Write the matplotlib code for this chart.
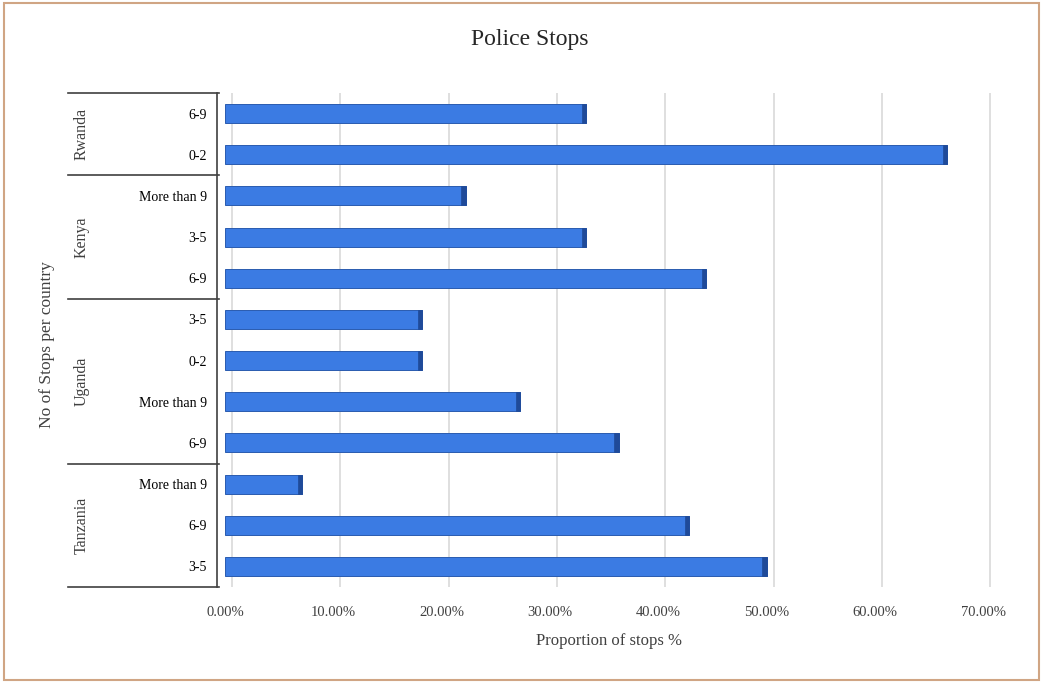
import matplotlib
matplotlib.use("Agg")
import matplotlib.pyplot as plt
from matplotlib.patches import Rectangle
from matplotlib.transforms import blended_transform_factory, ScaledTranslation
import numpy as np

plt.rcParams['font.family'] = ['Liberation Serif', 'DejaVu Serif']

# Data (bottom to top)
countries = ["Tanzania", "Uganda", "Kenya", "Rwanda"]
groups = [
    ["3-5", "6-9", "More than 9"],
    ["6-9", "More than 9", "0-2", "3-5"],
    ["6-9", "3-5", "More than 9"],
    ["0-2", "6-9"],
]
values = [
    [0.50, 0.4286, 0.0714],
    [0.3636, 0.2727, 0.1818, 0.1818],
    [0.4444, 0.3333, 0.2222],
    [0.6667, 0.3333],
]
xticks = [0.0, 0.1, 0.2, 0.3, 0.4, 0.5, 0.6, 0.7]

labels = [l for g in groups for l in g]
vals = [v for g in values for v in g]
ypos = np.arange(len(labels))

W, H = 1043, 683
fig = plt.figure(figsize=(W/100, H/100), dpi=100)
x0_px, scale_px = 225, 1083.0
xmax = 0.71
ax = fig.add_axes([x0_px/W, 1-587/H, xmax*scale_px/W, (587-93)/H])

bar_color = '#3b7be3'
edge_color = '#2a5cb0'
ax.barh(ypos, vals, height=0.46, color=bar_color, edgecolor=edge_color, linewidth=0.7, zorder=3)
cap = 0.004
ax.barh(ypos, [cap]*len(vals), left=np.array(vals)-cap, height=0.46, color='#1f4a99',
        edgecolor='#1f4a99', linewidth=0.5, zorder=4)

ax.set_xlim(0, xmax)
ax.set_ylim(-0.5, len(labels)-0.5)
ax.set_xticks(xticks)
ax.set_xticklabels([f"{t*100:.2f}%" for t in xticks], fontsize=10.5, color='#404040')
offset = ScaledTranslation(-4/100, 0, fig.dpi_scale_trans)
for lab in ax.get_xticklabels():
    lab.set_transform(lab.get_transform() + offset)
ax.set_yticks(ypos)
ax.set_yticklabels(labels, fontsize=12, color='#404040')
ax.tick_params(axis='y', length=0, pad=7)
ax.tick_params(axis='x', length=0, pad=14)
# gridlines on the (3D) back wall, shifted slightly right of the bar origin
depth = 7 / scale_px
for t in xticks:
    ax.axvline(t + depth, color='#d9d9d9', linewidth=1.2, zorder=0)
for s in ['top', 'right', 'bottom']:
    ax.spines[s].set_visible(False)
ax.spines['left'].set_position(('outward', 6))
ax.spines['left'].set_color('#404040')
ax.spines['left'].set_linewidth(1.2)

ax.set_xlabel("Proportion of stops %", fontsize=12, color='#404040', labelpad=10)

# Group separators and country labels
axw = xmax * scale_px
trans = blended_transform_factory(ax.transAxes, ax.transData)
x_left = (68-x0_px)/axw
x_right = (219-x0_px)/axw
start = 0
bounds = [-0.5]
for c, g in zip(countries, groups):
    end = start + len(g)
    bounds.append(end - 0.5)
    mid = (start + end - 1) / 2
    ax.text((82-x0_px)/axw, mid, c, rotation=90, ha='center', va='center',
            fontsize=11.5, color='#404040', transform=trans)
    start = end
for b in bounds:
    ax.plot([x_left, x_right], [b, b], color='#404040', lw=1.2, transform=trans, clip_on=False)

fig.text(47/W, 1-345/H, "No of Stops per country", rotation=90, ha='center', va='center',
         fontsize=12.5, color='#404040')
fig.text(530/W, 1-40/H, "Police Stops", ha='center', va='center', fontsize=17, color='#262626')

fig.patches.append(Rectangle((0.004, 0.004), 0.992, 0.992, transform=fig.transFigure,
                             fill=False, edgecolor='#d0a584', linewidth=1.5))

fig.savefig("out.png", dpi=100)
